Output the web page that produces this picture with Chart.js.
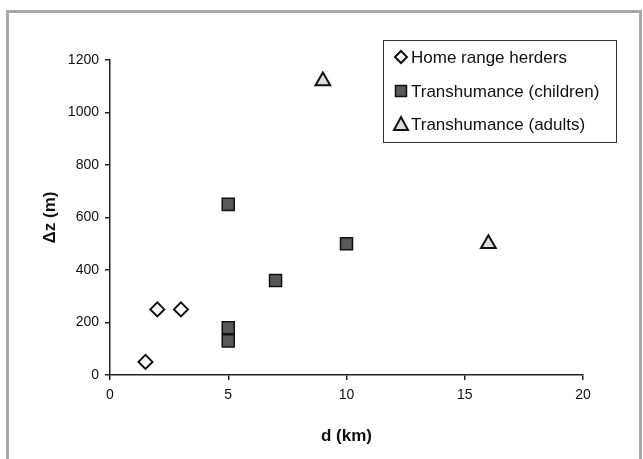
<!DOCTYPE html>
<html>
<head>
<meta charset="utf-8">
<script src="https://cdn.jsdelivr.net/npm/chart.js@4.4.0/dist/chart.umd.min.js"></script>
<style>
  html, body { margin: 0; padding: 0; background: #fff; }
  #wrap { position: relative; width: 643px; height: 459px; overflow: hidden; }
  #frame { position: absolute; left: 6px; top: 10px; width: 630px; height: 460px; border: 3px solid #a8a8a8; }
  #chartBox { position: absolute; left: 0; top: 0; width: 643px; height: 459px; }
</style>
</head>
<body>
<div id="wrap">
  <div id="frame"></div>
  <div id="chartBox"><canvas id="scatter"></canvas></div>
</div>
<script>
// data
const homeD = [1.5, 2, 3];
const homeZ = [50, 250, 250];
const childD = [5, 5, 5, 7, 10];
const childZ = [650, 180, 130, 360, 500];
const adultD = [9, 16];
const adultZ = [1120, 500];
const seriesNames = ['Home range herders', 'Transhumance (children)', 'Transhumance (adults)'];
const xTicks = [0, 5, 10, 15, 20];
const yTicks = [0, 200, 400, 600, 800, 1000, 1200];

const toPoints = (xs, ys) => xs.map((x, i) => ({ x: x, y: ys[i] }));

const styles = [
  { pointStyle: 'rectRot', pointRadius: 7, backgroundColor: '#ffffff', borderColor: '#111', borderWidth: 2 },
  { pointStyle: 'rect', pointRadius: 8.5, backgroundColor: '#585858', borderColor: '#111', borderWidth: 1.5 },
  { pointStyle: 'triangle', pointRadius: 8.5, backgroundColor: '#dcdcdc', borderColor: '#111', borderWidth: 2 }
];

// legend box drawn inside the plot, like the original
const boxLegend = {
  id: 'boxLegend',
  afterDraw(c) {
    const ctx = c.ctx;
    ctx.save();
    ctx.strokeStyle = '#333';
    ctx.lineWidth = 1;
    ctx.strokeRect(383.5, 40.5, 233, 102);
    ctx.font = '17px "Liberation Sans", Arial, sans-serif';
    ctx.textBaseline = 'middle';
    const rows = [57, 91, 124];
    seriesNames.forEach((name, i) => {
      const y = rows[i], x = 401;
      ctx.beginPath();
      if (i === 0) {
        ctx.moveTo(x, y - 6); ctx.lineTo(x + 6, y); ctx.lineTo(x, y + 6); ctx.lineTo(x - 6, y); ctx.closePath();
        ctx.fillStyle = '#fff'; ctx.fill();
        ctx.lineWidth = 2; ctx.strokeStyle = '#111'; ctx.stroke();
      } else if (i === 1) {
        ctx.rect(x - 5.5, y - 5.5, 11, 11);
        ctx.fillStyle = '#585858'; ctx.fill();
        ctx.lineWidth = 1.5; ctx.strokeStyle = '#111'; ctx.stroke();
      } else {
        ctx.moveTo(x, y - 7); ctx.lineTo(x + 7, y + 6); ctx.lineTo(x - 7, y + 6); ctx.closePath();
        ctx.fillStyle = '#dcdcdc'; ctx.fill();
        ctx.lineWidth = 2; ctx.strokeStyle = '#111'; ctx.stroke();
      }
      ctx.fillStyle = '#111';
      ctx.fillText(name, 411, y + 1);
    });
    ctx.restore();
  }
};

const chart = new Chart(document.getElementById('scatter'), {
  type: 'scatter',
  data: {
    datasets: [
      Object.assign({ label: seriesNames[0], data: toPoints(homeD, homeZ) }, styles[0]),
      Object.assign({ label: seriesNames[1], data: toPoints(childD, childZ) }, styles[1]),
      Object.assign({ label: seriesNames[2], data: toPoints(adultD, adultZ) }, styles[2])
    ]
  },
  options: {
    responsive: true,
    maintainAspectRatio: false,
    animation: false,
    layout: { padding: { left: 36, right: 60, top: 60, bottom: 8 } },
    plugins: {
      legend: { display: false },
      tooltip: { enabled: false }
    },
    scales: {
      x: {
        type: 'linear',
        min: 0, max: 20,
        afterBuildTicks: s => { s.ticks = xTicks.map(v => ({ value: v })); },
        afterFit: s => { s.height = 76; },
        grid: { drawOnChartArea: false, drawTicks: true, tickLength: 5, color: '#222', lineWidth: 1.5 },
        border: { display: true, color: '#222', width: 1.5 },
        ticks: { color: '#111', padding: 7, font: { family: '"Liberation Sans", Arial', size: 14 }, callback: v => String(v) },
        title: { display: true, text: 'd (km)', color: '#111', padding: { top: 12 }, font: { family: '"Liberation Sans", Arial', size: 17, weight: 'bold' } }
      },
      y: {
        type: 'linear',
        min: 0, max: 1200,
        afterBuildTicks: s => { s.ticks = yTicks.map(v => ({ value: v })); },
        afterFit: s => { s.width = 74; },
        grid: { drawOnChartArea: false, drawTicks: true, tickLength: 5, color: '#222', lineWidth: 1.5 },
        border: { display: true, color: '#222', width: 1.5 },
        ticks: { color: '#111', padding: 6, font: { family: '"Liberation Sans", Arial', size: 14 }, callback: v => String(v) },
        title: { display: true, text: 'Δz (m)', color: '#111', padding: { bottom: 12 }, font: { family: '"Liberation Sans", Arial', size: 17, weight: 'bold' } }
      }
    }
  },
  plugins: [boxLegend]
});
</script>
</body>
</html>
